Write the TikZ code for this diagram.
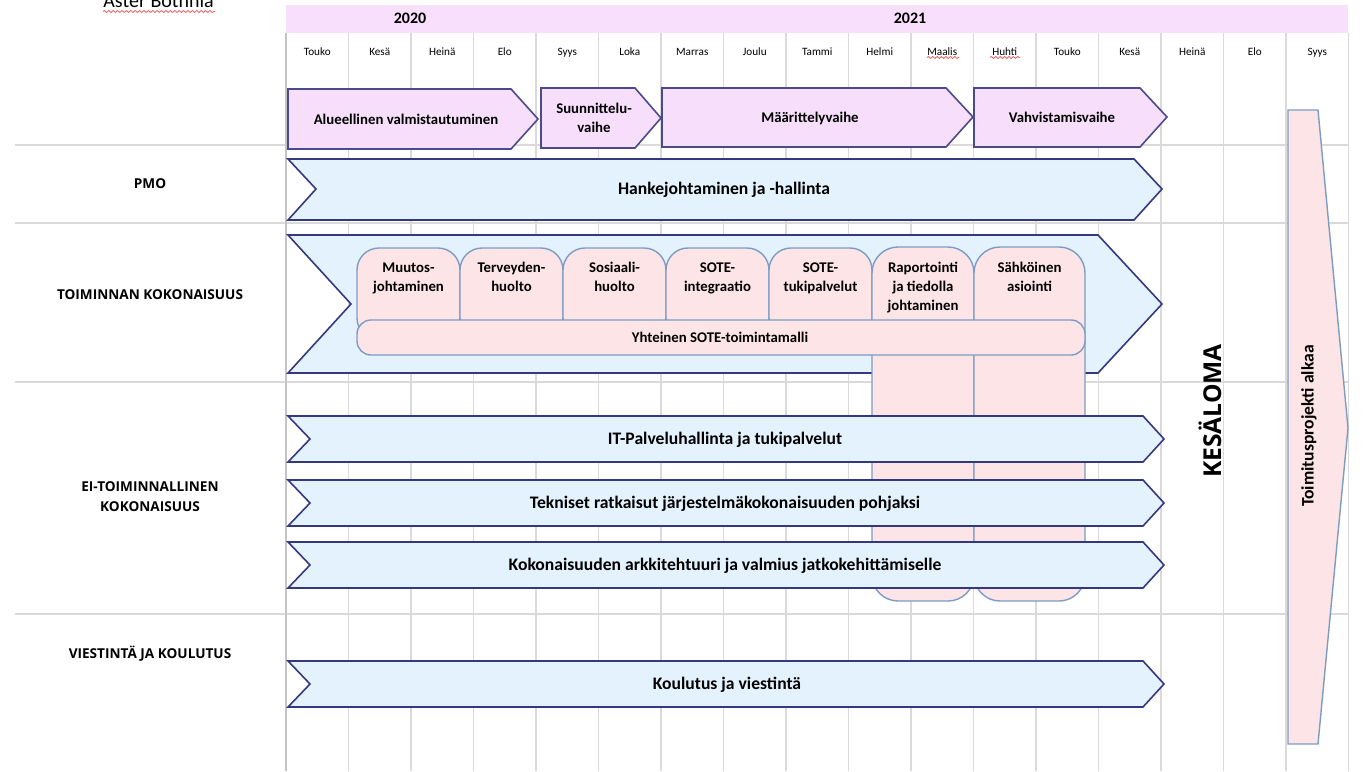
\documentclass[tikz,border=0pt]{standalone}
\usepackage{fontspec}
\setmainfont{Carlito}
\newfontfamily\headfont{Open Sans}
\usetikzlibrary{decorations.pathmorphing}

\definecolor{yearfill}{HTML}{F8E0FC}
\definecolor{phasefill}{HTML}{F7DFFB}
\definecolor{phaseedge}{HTML}{4A4A8C}
\definecolor{barfill}{HTML}{E3F2FD}
\definecolor{baredge}{HTML}{34397F}
\definecolor{pinkfill}{HTML}{FDE4E6}
\definecolor{pinkedge}{HTML}{7D9CC4}
\definecolor{gridgray}{HTML}{DADADA}
\definecolor{framegray}{HTML}{C4C4C4}
\definecolor{spellred}{HTML}{F06060}

\tikzset{
  gridline/.style={draw=gridgray, line width=0.7pt},
  frameline/.style={draw=framegray, line width=1.1pt},
  sepline/.style={draw=gridgray, line width=0.8pt},
  phasebar/.style={fill=phasefill, draw=phaseedge, line width=0.8pt, line join=miter},
  bluebar/.style={fill=barfill, draw=baredge, line width=0.8pt, line join=miter},
  pinkbox/.style={fill=pinkfill, draw=pinkedge, line width=0.7pt},
  spellmark/.style={draw=spellred, line width=0.4pt,
    decorate, decoration={snake, amplitude=0.5pt, segment length=2.2pt}},
  oneline/.style={text height=0.68em, text depth=0.18em},
  monthtext/.style={font=\fontsize{5.6}{6.5}\selectfont, inner sep=0pt, oneline},
  yeartext/.style={font=\bfseries\fontsize{8}{9}\selectfont, inner sep=0pt, oneline},
  phasetext/.style={font=\bfseries\fontsize{7.4}{9.3}\selectfont, align=center, inner sep=0pt},
  bartext/.style={font=\bfseries\fontsize{8.8}{10.5}\selectfont, inner sep=0pt, oneline},
  tabtext/.style={font=\bfseries\fontsize{7.4}{9.5}\selectfont, align=center, inner sep=0pt, anchor=north},
  rowlabel/.style={font=\headfont\bfseries\fontsize{6.8}{10}\selectfont, align=center, inner sep=0pt},
}

\begin{document}
\begin{tikzpicture}[x=0.5pt, y=-0.5pt]
\useasboundingbox (0,0) rectangle (1365,771);
\fill[white] (0,0) rectangle (1365,771);

% document heading, running off the page top
\node[font=\fontsize{10}{12}\selectfont, anchor=base west, inner sep=0pt] (org) at (103,7) {Aster Bothnia};
\draw[spellmark] (103,11.5) -- (215,11.5);

% row separators
\foreach \y in {145,223,382,614}
  \draw[sepline] (15,\y) -- (1348,\y);

% month columns
\foreach \k in {1,...,17}
  \draw[gridline] ({286+62.5*\k},33) -- ({286+62.5*\k},771);
\draw[frameline] (286,33) -- (286,771);

% year band
\fill[yearfill] (286,5) rectangle (1348,33);
\node[yeartext] (y2020) at (410,19) {2020};
\node[yeartext] (y2021) at (910,19) {2021};

% month names
\foreach \m [count=\i from 0] in {Touko,Kesä,Heinä,Elo,Syys,Loka,Marras,Joulu,Tammi,Helmi,Maalis,Huhti,Touko,Kesä,Heinä,Elo,Syys}
  \node[monthtext] (mon\i) at ({317.25+62.5*\i},50) {\m};
\draw[spellmark] (927,57.5) -- (959,57.5);
\draw[spellmark] (990,57.5) -- (1020,57.5);

% project phases
\draw[phasebar] (288,89) -- (511,89) -- (538,119) -- (511,149) -- (288,149) -- cycle;
\node[phasetext, oneline] (ph1) at (406,119) {Alueellinen valmistautuminen};
\draw[phasebar] (541,88) -- (635,88) -- (661,118) -- (635,148) -- (541,148) -- cycle;
\node[phasetext] (ph2) at (594,118) {Suunnittelu-\\vaihe};
\draw[phasebar] (662,88) -- (946,88) -- (973,117) -- (946,147) -- (662,147) -- cycle;
\node[phasetext, oneline] (ph3) at (810,117) {Määrittelyvaihe};
\draw[phasebar] (974,88) -- (1140,88) -- (1167,117) -- (1140,147) -- (974,147) -- cycle;
\node[phasetext, oneline] (ph4) at (1062,117) {Vahvistamisvaihe};

% PMO
\draw[bluebar] (288,159) -- (1134,159) -- (1162,189) -- (1134,220) -- (288,220) -- (316,189) -- cycle;
\node[bartext] (pmo) at (724,189) {Hankejohtaminen ja -hallinta};

% operational entity
\draw[bluebar] (288,235) -- (1098,235) -- (1162,304) -- (1098,373) -- (288,373) -- (351,304) -- cycle;

\draw[pinkbox, rounded corners=11] (357,248) rectangle (460,340);
\draw[pinkbox, rounded corners=11] (460,248) rectangle (563,340);
\draw[pinkbox, rounded corners=11] (563,248) rectangle (666,340);
\draw[pinkbox, rounded corners=11] (666,248) rectangle (769,340);
\draw[pinkbox, rounded corners=11] (769,248) rectangle (872,340);
\draw[pinkbox, rounded corners=13] (872,247) rectangle (974,601);
\draw[pinkbox, rounded corners=13] (974,247) rectangle (1085,601);

\node[tabtext] (t1) at (408.5,262) {Muutos-\\johtaminen};
\node[tabtext] (t2) at (511.5,262) {Terveyden-\\huolto};
\node[tabtext] (t3) at (614.5,262) {Sosiaali-\\huolto};
\node[tabtext] (t4) at (717.5,262) {SOTE-\\integraatio};
\node[tabtext] (t5) at (820.5,262) {SOTE-\\tukipalvelut};
\node[tabtext] (t6) at (923,262) {Raportointi\\ja tiedolla\\johtaminen};
\node[tabtext] (t7) at (1029.5,262) {Sähköinen\\asiointi};

\draw[pinkbox, rounded corners=7] (357,320) rectangle (1085,355);
\node[phasetext, oneline] (sote) at (720,337) {Yhteinen SOTE-toimintamalli};

% non-functional entity
\draw[bluebar] (288,416) -- (1143,416) -- (1164,439) -- (1143,462) -- (288,462) -- (310,439) -- cycle;
\node[bartext] (it) at (725,439) {IT-Palveluhallinta ja tukipalvelut};
\draw[bluebar] (288,480) -- (1143,480) -- (1164,503) -- (1143,526) -- (288,526) -- (310,503) -- cycle;
\node[bartext] (tek) at (725,503) {Tekniset ratkaisut järjestelmäkokonaisuuden pohjaksi};
\draw[bluebar] (288,542) -- (1143,542) -- (1164,565) -- (1143,588) -- (288,588) -- (310,565) -- cycle;
\node[bartext] (ark) at (725,565) {Kokonaisuuden arkkitehtuuri ja valmius jatkokehittämiselle};

% communication and training
\draw[bluebar] (288,661) -- (1143,661) -- (1164,684) -- (1143,707) -- (288,707) -- (310,684) -- cycle;
\node[bartext] (kou) at (727,684) {Koulutus ja viestintä};

% summer break and delivery start
\node[font=\headfont\bfseries\fontsize{12.3}{14}\selectfont, rotate=90, inner sep=0pt] (loma) at (1210,411) {KESÄLOMA};
\draw[pinkbox, line join=miter] (1288,110) -- (1318,110) -- (1348,428) -- (1318,744) -- (1288,744) -- cycle;
\node[font=\bfseries\fontsize{8.8}{10}\selectfont, rotate=90, inner sep=0pt] (toim) at (1309,426) {Toimitusprojekti alkaa};

% row labels
\node[rowlabel] (lpmo) at (150,184) {PMO};
\node[rowlabel] (ltoim) at (150,295) {TOIMINNAN KOKONAISUUS};
\node[rowlabel] (lei) at (150,497) {EI-TOIMINNALLINEN\\KOKONAISUUS};
\node[rowlabel] (lvie) at (150,654) {VIESTINTÄ JA KOULUTUS};
\end{tikzpicture}
\end{document}
